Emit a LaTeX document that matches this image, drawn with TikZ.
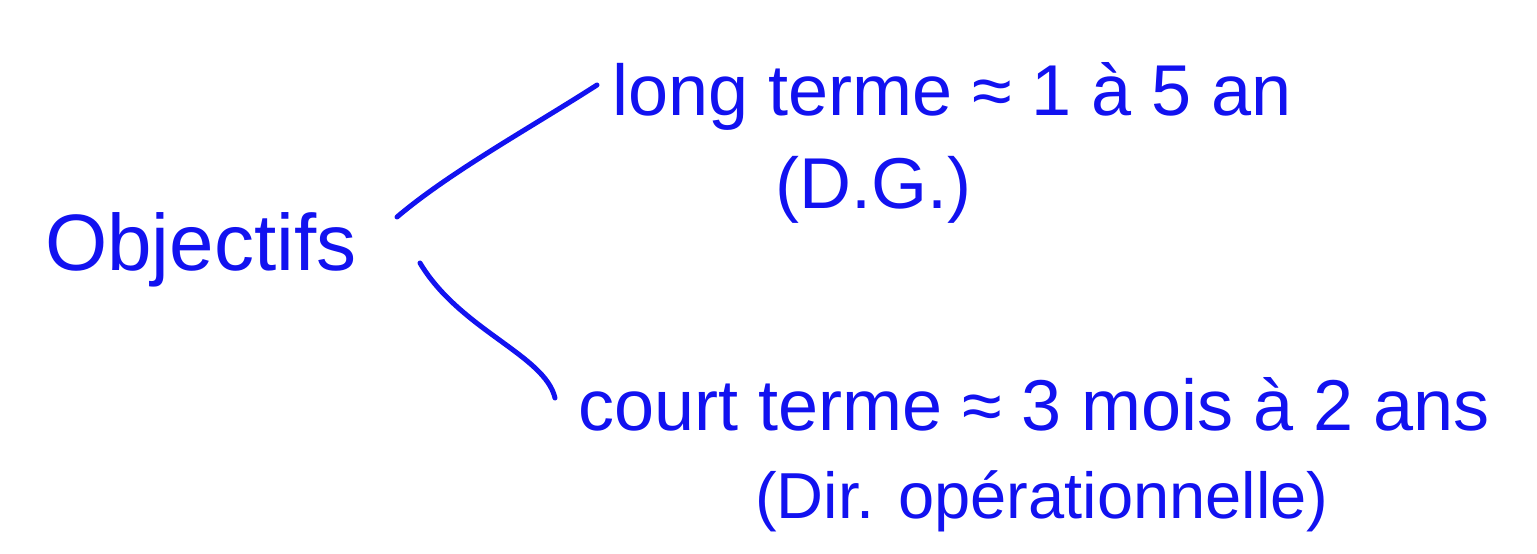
\documentclass[tikz,border=0pt]{standalone}
\usepackage{fontspec}
\setmainfont{Liberation Sans}
\definecolor{ink}{RGB}{18,18,240}
\begin{document}
\begin{tikzpicture}[x=1pt,y=-1pt,
  ink/.style={text=ink,inner sep=0pt},
  big/.style={ink,font=\fontsize{80}{90}\selectfont},
  mid/.style={ink,font=\fontsize{72}{80}\selectfont},
  sml/.style={ink,font=\fontsize{65}{72}\selectfont},
  stroke/.style={draw=ink,line width=5pt,line cap=round,line join=round}]
\useasboundingbox[fill=white] (0,0) rectangle (1537,554);

% main heading
\node[big,anchor=base west] (obj) at (45,270) {Objectifs};

% the two horizons
\node[mid,anchor=base west] (long) at (612,115) {long terme ≈ 1 à 5 an};
\node[mid,anchor=base west] (dg) at (775,208) {(D.G.)};
\node[mid,anchor=base west] (court) at (578,430) {court terme ≈ 3 mois à 2 ans};
\node[sml,anchor=base west] (dir) at (755,518) {(Dir. opérationnelle)};

% branch ends
\coordinate (up0) at (397,217);
\coordinate (up1) at (597,85);
\coordinate (lo0) at (420,263);
\coordinate (lo1) at (555,398);

\draw[stroke] (up0) .. controls (450,172) and (530,128) .. (up1);
\draw[stroke] (lo0) .. controls (460,330) and (545,355) .. (lo1);
\end{tikzpicture}
\end{document}
